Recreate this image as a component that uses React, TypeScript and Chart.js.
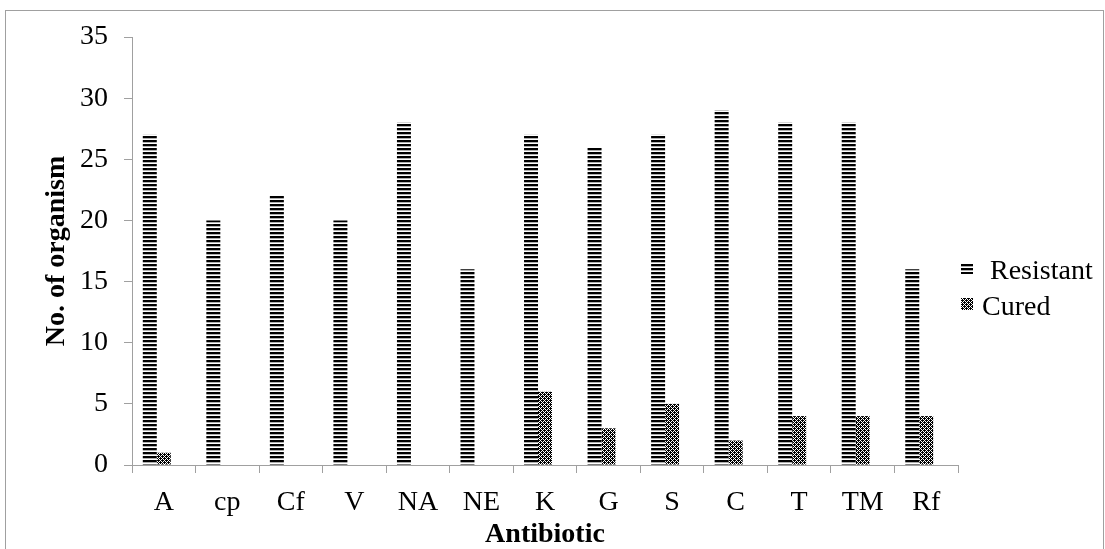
import React, { useEffect, useRef } from "react";
import { Chart, registerables } from "chart.js";

Chart.register(...registerables);

const categories = ["A", "cp", "Cf", "V", "NA", "NE", "K", "G", "S", "C", "T", "TM", "Rf"];
const resistant = [27, 20, 22, 20, 28, 16, 27, 26, 27, 29, 28, 28, 16];
const cured = [1, 0, 0, 0, 0, 0, 6, 3, 5, 2, 4, 4, 4];
const emptySeries = [null, null, null, null, null, null, null, null, null, null, null, null, null];
const seriesNames = ["Resistant", "Cured"];
const yTicks = { min: 0, max: 35, step: 5 };

const W = 1105;
const H = 549;
const FONT = "'Liberation Serif', 'Times New Roman', serif";
const GRAY = "#a0a0a0";

function stripePattern(ctx: CanvasRenderingContext2D) {
  const c = document.createElement("canvas");
  c.width = 4;
  c.height = 4;
  const g = c.getContext("2d")!;
  g.fillStyle = "#ffffff";
  g.fillRect(0, 0, 4, 4);
  g.fillStyle = "#000000";
  g.fillRect(0, 0, 4, 2);
  g.fillStyle = "#b0b0b0";
  g.fillRect(0, 2, 4, 1);
  return ctx.createPattern(c, "repeat")!;
}

function checkerPattern(ctx: CanvasRenderingContext2D) {
  const c = document.createElement("canvas");
  c.width = 4;
  c.height = 4;
  const g = c.getContext("2d")!;
  g.fillStyle = "#000000";
  g.fillRect(0, 0, 4, 4);
  g.fillStyle = "#ffffff";
  for (let x = 0; x < 4; x++) {
    for (let y = 0; y < 4; y++) {
      if ((x + y) % 4 === 0 || (x - y + 4) % 4 === 0) g.fillRect(x, y, 1, 1);
    }
  }
  return ctx.createPattern(c, "repeat")!;
}

export default function App() {
  const ref = useRef<HTMLCanvasElement | null>(null);

  useEffect(() => {
    document.body.style.margin = "0";
    const canvas = ref.current!;
    const ctx = canvas.getContext("2d")!;
    const pStripe = stripePattern(ctx);
    const pChecker = checkerPattern(ctx);

    const framePlugin = {
      id: "frame",
      beforeDraw(chart: any) {
        const c = chart.ctx;
        c.save();
        c.fillStyle = "#ffffff";
        c.fillRect(0, 0, W, H);
        c.strokeStyle = GRAY;
        c.lineWidth = 1;
        c.strokeRect(5.5, 10.5, W - 7, H + 10);
        c.restore();
      },
      afterDraw(chart: any) {
        const c = chart.ctx;
        c.save();
        c.font = "28px " + FONT;
        c.textBaseline = "alphabetic";
        c.textAlign = "left";
        // legend item 1
        c.fillStyle = pStripe;
        c.fillRect(961, 264, 12, 10);
        c.fillStyle = "#000";
        c.fillText(seriesNames[0], 990, 279);
        // legend item 2
        c.fillStyle = pChecker;
        c.fillRect(961, 298, 12, 12);
        c.fillStyle = "#000";
        c.fillText(seriesNames[1], 982, 315);
        c.restore();
      },
    };

    const chart = new Chart(ctx, {
      type: "bar",
      data: {
        labels: categories,
        datasets: [
          { label: seriesNames[0], data: resistant, backgroundColor: pStripe, borderWidth: 0 },
          { label: seriesNames[1], data: cured, backgroundColor: pChecker, borderWidth: 0 },
          { label: "", data: emptySeries as any, backgroundColor: "#fff", borderWidth: 0 },
        ],
      },
      options: {
        responsive: false,
        animation: false,
        devicePixelRatio: 1,
        layout: { padding: { left: 0, top: 37, right: W - 958, bottom: 0 } },
        datasets: { bar: { categoryPercentage: 0.66, barPercentage: 1 } },
        plugins: { legend: { display: false }, tooltip: { enabled: false } },
        scales: {
          x: {
            grid: { display: true, drawOnChartArea: false, drawTicks: true, tickLength: 8, color: GRAY, offset: true },
            border: { display: true, color: GRAY },
            ticks: { font: { family: FONT, size: 28 }, color: "#000", padding: 13, maxRotation: 0, autoSkip: false },
            title: {
              display: true,
              text: "Antibiotic",
              color: "#000",
              font: { family: FONT, size: 28, weight: "bold", lineHeight: 1 },
              padding: { top: 0, bottom: 0 },
            },
            afterFit(scale: any) {
              scale.height = H - 465;
            },
          },
          y: {
            min: yTicks.min,
            max: yTicks.max,
            grid: { display: true, drawOnChartArea: false, drawTicks: true, tickLength: 8, color: GRAY },
            border: { display: true, color: GRAY },
            ticks: { stepSize: yTicks.step, font: { family: FONT, size: 28 }, color: "#000", padding: 16 },
            title: {
              display: true,
              text: "No. of organism",
              color: "#000",
              font: { family: FONT, size: 28, weight: "bold", lineHeight: 1.2 },
              padding: { top: 40, bottom: 0 },
            },
            afterFit(scale: any) {
              scale.width = 132;
            },
          },
        },
      },
      plugins: [framePlugin],
    } as any);

    return () => chart.destroy();
  }, []);

  return (
    <div style={{ width: W, height: H }}>
      <canvas ref={ref} width={W} height={H} style={{ display: "block", width: W, height: H }} />
    </div>
  );
}
